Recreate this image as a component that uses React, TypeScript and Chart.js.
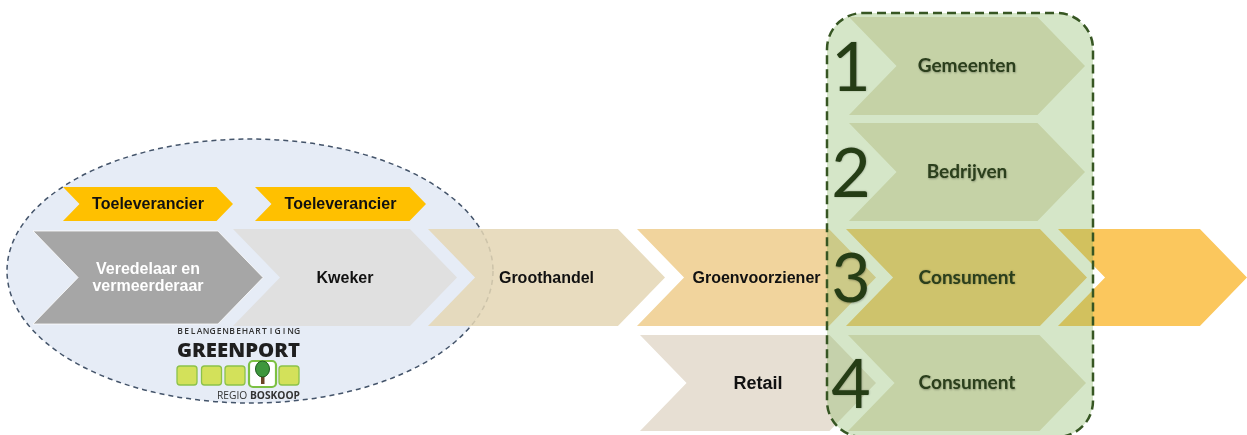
import React, { useEffect, useRef } from 'react';
import { Chart, registerables } from 'chart.js';

Chart.register(...registerables);

const W = 1247;
const H = 435;

// Main value-chain stages (diagram units along x and y)
const stageLabels = ['Veredelaar en\nvermeerderaar', 'Kweker', 'Groothandel', 'Groenvoorziener', '', 'Retail'];
const stageStart = [33, 233, 428, 637, 1058, 640];
const stageEnd = [263, 457, 665, 876, 1247, 876];
const stageTop = [231, 229, 229, 229, 229, 335];
const stageBottom = [324, 326, 326, 326, 326, 431];

// Supplier stages
const supplierLabels = ['Toeleverancier', 'Toeleverancier'];
const supplierStart = [63, 255];
const supplierEnd = [233, 426];
const supplierTop = [187, 187];
const supplierBottom = [221, 221];

// End-user stages
const endNumbers = ['1', '2', '3', '4'];
const endLabels = ['Gemeenten', 'Bedrijven', 'Consument', 'Consument'];
const endStart = [849, 849, 846, 848];
const endEnd = [1085, 1085, 1087, 1086];
const endTop = [17, 123, 229, 335];
const endBottom = [115, 221, 326, 431];

// Styles
const stageFill = ['#a6a6a6', '#e0e0e0', 'rgba(228,214,181,0.86)', '#f1d49d', '#fbc75d', '#e7dfd3'];
const stageTextColor = ['#ffffff', '#111111', '#111111', '#111111', '#111111', '#111111'];
const stageFontSize = [16, 16, 16, 16, 16, 18];
const endFill = ['#c5d2a6', '#c5d2a6', '#cec36c', '#c5d2a6'];

function chevron(ctx: CanvasRenderingContext2D, x0: number, x1: number, t: number, b: number) {
  const d = ((b - t) / 2) * 0.97;
  const m = (t + b) / 2;
  ctx.beginPath();
  ctx.moveTo(x0, t);
  ctx.lineTo(x1 - d, t);
  ctx.lineTo(x1, m);
  ctx.lineTo(x1 - d, b);
  ctx.lineTo(x0, b);
  ctx.lineTo(x0 + d, m);
  ctx.closePath();
}

function roundRect(ctx: CanvasRenderingContext2D, x: number, y: number, w: number, h: number, r: number) {
  ctx.beginPath();
  ctx.moveTo(x + r, y);
  ctx.lineTo(x + w - r, y);
  ctx.arcTo(x + w, y, x + w, y + r, r);
  ctx.lineTo(x + w, y + h - r);
  ctx.arcTo(x + w, y + h, x + w - r, y + h, r);
  ctx.lineTo(x + r, y + h);
  ctx.arcTo(x, y + h, x, y + h - r, r);
  ctx.lineTo(x, y + r);
  ctx.arcTo(x, y, x + r, y, r);
  ctx.closePath();
}

function fitText(ctx: CanvasRenderingContext2D, text: string, x0: number, x1: number, y: number) {
  const w = ctx.measureText(text).width;
  const s = (x1 - x0) / w;
  ctx.save();
  ctx.translate(x0, y);
  ctx.scale(s, 1);
  ctx.textAlign = 'left';
  ctx.fillText(text, 0, 0);
  ctx.restore();
}

const diagramPlugin = {
  id: 'diagram',
  beforeDatasetsDraw(chart: any) {
    const ctx: CanvasRenderingContext2D = chart.ctx;
    const X = (v: number) => chart.scales.x.getPixelForValue(v);
    const Y = (v: number) => chart.scales.y.getPixelForValue(v);
    ctx.save();

    // Ellipse around breeding / growing
    ctx.beginPath();
    ctx.ellipse(X(250), Y(271), X(493) - X(250), Y(403) - Y(271), 0, 0, Math.PI * 2);
    ctx.fillStyle = '#e6ecf6';
    ctx.fill();
    ctx.setLineDash([5, 4]);
    ctx.lineWidth = 1.5;
    ctx.strokeStyle = '#44546a';
    ctx.stroke();
    ctx.setLineDash([]);

    // Suppliers
    supplierLabels.forEach((lab, i) => {
      chevron(ctx, X(supplierStart[i]), X(supplierEnd[i]), Y(supplierTop[i]), Y(supplierBottom[i]));
      ctx.fillStyle = '#ffc000';
      ctx.fill();
      ctx.fillStyle = '#111111';
      ctx.font = 'bold 16px "Liberation Sans", Arial, sans-serif';
      ctx.textAlign = 'center';
      ctx.textBaseline = 'middle';
      ctx.fillText(lab, X((supplierStart[i] + supplierEnd[i]) / 2), Y((supplierTop[i] + supplierBottom[i]) / 2) + 1);
    });

    // Stages
    stageLabels.forEach((lab, i) => {
      chevron(ctx, X(stageStart[i]), X(stageEnd[i]), Y(stageTop[i]), Y(stageBottom[i]));
      ctx.fillStyle = stageFill[i];
      ctx.fill();
      if (i === 0) {
        ctx.strokeStyle = 'rgba(255,255,255,0.8)';
        ctx.lineWidth = 1;
        ctx.stroke();
      }
      if (!lab) return;
      ctx.fillStyle = stageTextColor[i];
      ctx.font = `bold ${stageFontSize[i]}px "Liberation Sans", Arial, sans-serif`;
      ctx.textAlign = 'center';
      ctx.textBaseline = 'middle';
      const lines = lab.split('\n');
      const cx = X((stageStart[i] + stageEnd[i]) / 2);
      const cy = Y((stageTop[i] + stageBottom[i]) / 2);
      lines.forEach((ln, k) => {
        ctx.fillText(ln, cx, cy + (k - (lines.length - 1) / 2) * 17 + 1);
      });
    });

    // Logo
    ctx.fillStyle = '#333333';
    ctx.font = '600 8.5px "Open Sans", "DejaVu Sans", sans-serif';
    ctx.textBaseline = 'alphabetic';
    ctx.textAlign = 'center';
    const belang = 'BELANGENBEHARTIGING';
    const bx0 = X(180), bx1 = X(297);
    for (let k = 0; k < belang.length; k++) {
      const xx = bx0 + ((bx1 - bx0) * k) / (belang.length - 1);
      ctx.fillText(belang[k], xx, Y(334));
    }
    ctx.fillStyle = '#1f1f1f';
    ctx.font = '800 19px "Open Sans", "DejaVu Sans", sans-serif';
    fitText(ctx, 'GREENPORT', X(177), X(300), Y(357));
    const sq = [177, 201.5, 225];
    sq.concat([279]).forEach((sx) => {
      roundRect(ctx, X(sx), Y(366), X(sx + 20) - X(sx), Y(385) - Y(366), 3);
      ctx.fillStyle = '#d3e15a';
      ctx.fill();
      ctx.strokeStyle = '#8cc24a';
      ctx.lineWidth = 1.3;
      ctx.stroke();
    });
    roundRect(ctx, X(249), Y(361), X(276) - X(249), Y(387) - Y(361), 4);
    ctx.fillStyle = '#ffffff';
    ctx.fill();
    ctx.strokeStyle = '#7cc043';
    ctx.lineWidth = 2.2;
    ctx.stroke();
    ctx.fillStyle = '#6b4426';
    ctx.fillRect(X(261), Y(372), X(264.5) - X(261), Y(384) - Y(372));
    ctx.beginPath();
    ctx.ellipse(X(262.5), Y(369), 7, 8, 0, 0, Math.PI * 2);
    ctx.fillStyle = '#3e973d';
    ctx.fill();
    ctx.strokeStyle = '#1e5a1e';
    ctx.lineWidth = 1;
    ctx.stroke();
    ctx.fillStyle = '#333333';
    ctx.textAlign = 'left';
    ctx.font = '11px "Open Sans", "DejaVu Sans", sans-serif';
    const regio = 'REGIO ';
    const rw = ctx.measureText(regio).width;
    ctx.font = 'bold 11px "Open Sans", "DejaVu Sans", sans-serif';
    const bw = ctx.measureText('BOSKOOP').width;
    const scale = (X(300) - X(217)) / (rw + bw);
    ctx.save();
    ctx.translate(X(217), Y(399));
    ctx.scale(scale, 1);
    ctx.font = '11px "Open Sans", "DejaVu Sans", sans-serif';
    ctx.fillText(regio, 0, 0);
    ctx.font = 'bold 11px "Open Sans", "DejaVu Sans", sans-serif';
    ctx.fillText('BOSKOOP', rw, 0);
    ctx.restore();

    // End-user frame
    roundRect(ctx, X(827), Y(13), X(1093) - X(827), Y(437) - Y(13), 36);
    ctx.fillStyle = 'rgba(135,184,98,0.35)';
    ctx.fill();
    ctx.setLineDash([9, 5]);
    ctx.lineWidth = 2.5;
    ctx.strokeStyle = '#375623';
    ctx.stroke();
    ctx.setLineDash([]);

    endLabels.forEach((lab, i) => {
      chevron(ctx, X(endStart[i]), X(endEnd[i]), Y(endTop[i]), Y(endBottom[i]));
      ctx.fillStyle = endFill[i];
      ctx.fill();
      const cy = Y((endTop[i] + endBottom[i]) / 2);
      ctx.save();
      ctx.shadowColor = 'rgba(0,0,0,0.3)';
      ctx.shadowBlur = 2;
      ctx.shadowOffsetX = 0.5;
      ctx.shadowOffsetY = 0.5;
      ctx.fillStyle = '#2b3f1c';
      ctx.font = 'bold 19px Lato, "Open Sans", sans-serif';
      ctx.textAlign = 'center';
      ctx.textBaseline = 'middle';
      ctx.fillText(lab, X(967), cy);
      ctx.fillStyle = '#253d15';
      ctx.font = '68px Lato, "Open Sans", sans-serif';
      ctx.textBaseline = 'alphabetic';
      ctx.fillText(endNumbers[i], X(851), cy + 24.5);
      ctx.restore();
    });

    ctx.restore();
  },
};

export default function App() {
  const ref = useRef<HTMLCanvasElement | null>(null);
  useEffect(() => {
    if (!ref.current) return;
    const centers = (s: number[], e: number[], t: number[], b: number[]) =>
      s.map((v, i) => ({ x: (v + e[i]) / 2, y: (t[i] + b[i]) / 2 }));
    const chart = new Chart(ref.current, {
      type: 'scatter',
      data: {
        datasets: [
          { label: 'stages', data: centers(stageStart, stageEnd, stageTop, stageBottom), pointRadius: 0 },
          { label: 'suppliers', data: centers(supplierStart, supplierEnd, supplierTop, supplierBottom), pointRadius: 0 },
          { label: 'end users', data: centers(endStart, endEnd, endTop, endBottom), pointRadius: 0 },
        ],
      },
      options: {
        animation: false,
        responsive: false,
        devicePixelRatio: 1,
        layout: { padding: 0 },
        events: [],
        plugins: { legend: { display: false }, tooltip: { enabled: false }, title: { display: false } },
        scales: {
          x: { type: 'linear', min: 0, max: W, display: false },
          y: { type: 'linear', min: 0, max: H, reverse: true, display: false },
        },
      },
      plugins: [diagramPlugin],
    });
    return () => chart.destroy();
  }, []);
  return (
    <div style={{ position: 'absolute', left: 0, top: 0, width: W, height: H, background: '#ffffff' }}>
      <canvas ref={ref} width={W} height={H} style={{ display: 'block', width: W, height: H }} />
    </div>
  );
}
